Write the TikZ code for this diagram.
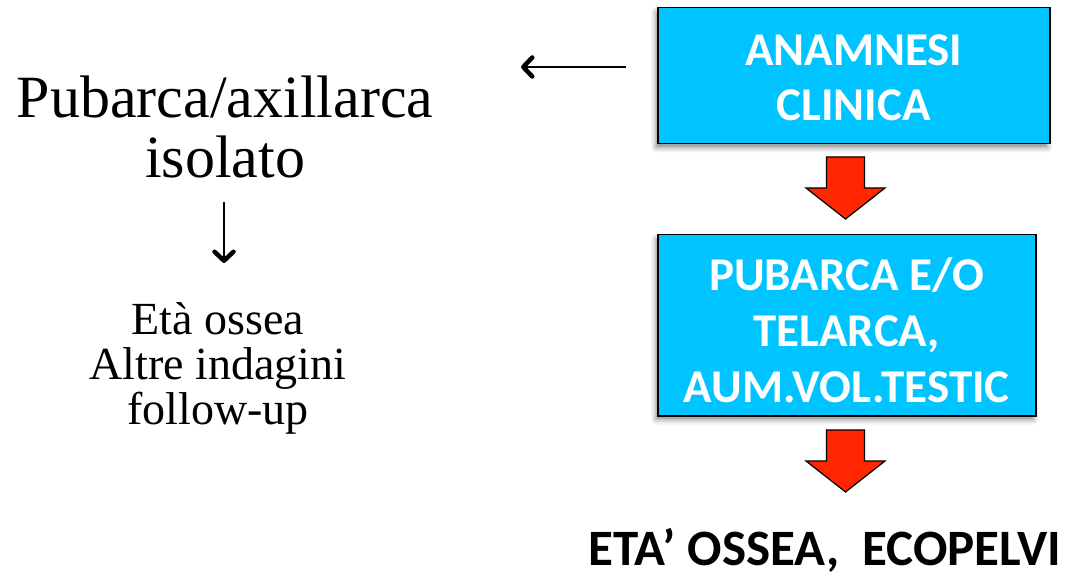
\documentclass[tikz,border=0pt]{standalone}
\usepackage{fontspec}
\setmainfont{Liberation Serif}
\newfontfamily\boxfont{Carlito}
\usetikzlibrary{arrows.meta,shadows.blur}
\definecolor{boxcyan}{HTML}{00C4FF}
\definecolor{arrred}{HTML}{FF2600}
\tikzset{
  cyanbox/.style={draw=black, line width=1.5pt, fill=boxcyan, text=white,
    font=\boxfont\bfseries\fontsize{47}{55}\selectfont, align=center,
    inner sep=0pt, anchor=north west, text depth=0pt,
    blur shadow={shadow xshift=-2pt, shadow yshift=-4pt, shadow blur radius=5pt, shadow opacity=45}},
  thinarrow/.style={line width=1.4pt, -{Straight Barb[length=9pt,width=19pt,line width=4.5pt,round]}},
  redarrow/.pic={
    \draw[fill=arrred, line width=1.2pt, line join=miter]
      (-19,0) -- (19,0) -- (19,31) -- (39.5,31) -- (0,62) -- (-39.5,31) -- (-19,31) -- cycle;
  }
}
\begin{document}
\begin{tikzpicture}[x=1pt,y=-1pt]
\useasboundingbox (0,0) rectangle (1074,577);
% boxes
\node[cyanbox, minimum width=392pt, minimum height=136pt, text height=90pt] (b1) at (657,7) {ANAMNESI\\CLINICA};
\node[cyanbox, font=\boxfont\bfseries\fontsize{47}{56}\selectfont, minimum width=378pt, minimum height=181pt, text height=155pt] (b2) at (657,234) {PUBARCA E/O\\TELARCA,\\AUM.VOL.TESTIC};
% red block arrows
\pic at (845.5,157) {redarrow};
\pic at (845.5,430) {redarrow};
% bottom text
\node[anchor=base, font=\boxfont\bfseries\fontsize{51}{60}\selectfont, inner sep=0pt] (res) at (824.5,565) {ETA’ OSSEA,\ \ ECOPELVI};
% left texts
\node[anchor=base, align=center, font=\fontsize{60}{60}\selectfont, inner sep=0pt] (pub) at (225,178) {Pubarca/axillarca\\isolato};
\node[anchor=base, align=center, font=\fontsize{46}{45}\selectfont, inner sep=0pt] (eta) at (218,424) {Età ossea\\Altre indagini\\follow-up};
% thin arrows
\coordinate (la1) at (626,67);
\coordinate (la2) at (521,67);
\draw[thinarrow] (la1) -- (la2);
\coordinate (da1) at (224,202);
\coordinate (da2) at (224,263);
\draw[thinarrow] (da1) -- (da2);
\end{tikzpicture}
\end{document}
